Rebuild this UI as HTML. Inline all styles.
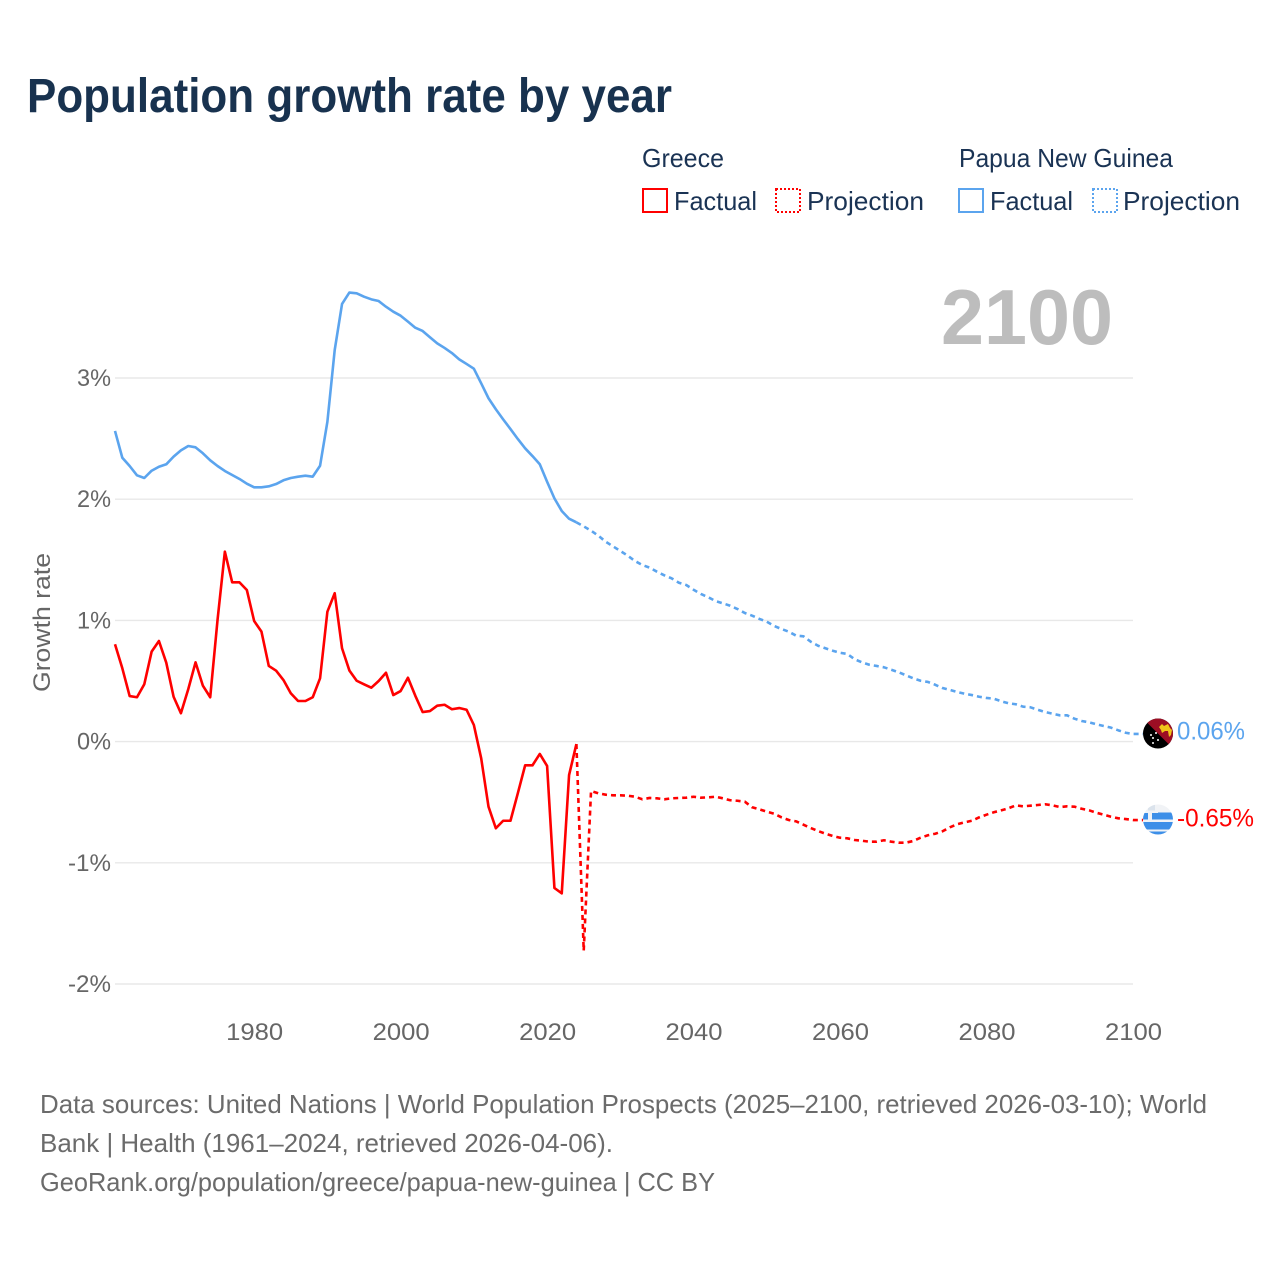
<!DOCTYPE html>
<html lang="en">
<head>
<meta charset="utf-8">
<title>Population growth rate by year</title>
<style>
html,body{margin:0;padding:0;background:#fff;width:1280px;height:1280px;overflow:hidden}
svg{display:block;font-family:"Liberation Sans",sans-serif}
</style>
</head>
<body>
<svg id="chart" xmlns="http://www.w3.org/2000/svg" width="1280" height="1280" viewBox="0 0 1280 1280">
  <defs>
    <clipPath id="flag-clip-png"><circle cx="1158" cy="733.5" r="15"/></clipPath>
    <clipPath id="flag-clip-gr"><circle cx="1158" cy="819.5" r="15"/></clipPath>
  </defs>
  <rect x="0" y="0" width="1280" height="1280" fill="#fff"/>
  <text x="27" y="112" font-size="48" font-weight="700" fill="#18324f" textLength="645" lengthAdjust="spacingAndGlyphs">Population growth rate by year</text>

  <g font-size="26" fill="#1a3354">
    <text x="642" y="167" textLength="82" lengthAdjust="spacingAndGlyphs">Greece</text>
    <text x="959" y="167" textLength="214" lengthAdjust="spacingAndGlyphs">Papua New Guinea</text>
    <g>
      <rect x="643" y="189" width="24" height="23" fill="none" stroke="#ff0000" stroke-width="2"/>
      <text x="674" y="210" textLength="83" lengthAdjust="spacingAndGlyphs">Factual</text>
    </g>
    <g>
      <rect x="776" y="189" width="24" height="23" fill="none" stroke="#ff0000" stroke-width="2" stroke-dasharray="2 2"/>
      <text x="807" y="210" textLength="117" lengthAdjust="spacingAndGlyphs">Projection</text>
    </g>
    <g>
      <rect x="959" y="189" width="24" height="23" fill="none" stroke="#5ba4ee" stroke-width="2"/>
      <text x="990" y="210" textLength="83" lengthAdjust="spacingAndGlyphs">Factual</text>
    </g>
    <g>
      <rect x="1093" y="189" width="24" height="23" fill="none" stroke="#5ba4ee" stroke-width="2" stroke-dasharray="2 2"/>
      <text x="1123" y="210" textLength="117" lengthAdjust="spacingAndGlyphs">Projection</text>
    </g>
  </g>

  <g id="grid"></g>
  <g id="y-ticks"></g>
  <g id="x-ticks"></g>
  <text transform="translate(50 622.5) rotate(-90)" text-anchor="middle" font-size="24" fill="#666" textLength="139" lengthAdjust="spacingAndGlyphs">Growth rate</text>
  <text x="941" y="344" font-size="78" font-weight="700" fill="#bdbdbd" textLength="172" lengthAdjust="spacingAndGlyphs">2100</text>

  <g id="series"></g>

  <g clip-path="url(#flag-clip-png)">
    <rect x="1143" y="718.5" width="30" height="30" fill="#000"/>
    <polygon points="1143,718.5 1173,718.5 1173,748.5" fill="#9c0e24"/>
    <polygon points="1159,727 1162,724 1164,726 1168,724 1170,728 1172,730 1171,735 1169,737 1168,731 1165,731 1162,733 1161,730" fill="#f0c419"/>
    <circle cx="1151" cy="735" r="1" fill="#fff"/>
    <circle cx="1156" cy="733" r="1" fill="#fff"/>
    <circle cx="1153" cy="738" r="1" fill="#fff"/>
    <circle cx="1153" cy="743" r="1" fill="#fff"/>
    <circle cx="1158" cy="740" r="1" fill="#fff"/>
  </g>
  <g clip-path="url(#flag-clip-gr)">
    <rect x="1143" y="804.5" width="30" height="31" fill="#f1f3f6"/>
    <rect x="1158" y="812.5" width="15" height="7" fill="#3d8fe8"/>
    <rect x="1143" y="822" width="30" height="7.5" fill="#3d8fe8"/>
    <rect x="1143" y="831.5" width="30" height="4" fill="#3d8fe8"/>
    <rect x="1148" y="804.5" width="7" height="6" fill="#dbe3ec"/>
    <rect x="1143" y="813" width="5" height="6.5" fill="#3d8fe8"/>
    <rect x="1152" y="813" width="6" height="6.5" fill="#3d8fe8"/>
  </g>

  <text id="end-label-png" x="1177" y="739.5" font-size="25" fill="#5ba4ee" textLength="68" lengthAdjust="spacingAndGlyphs">0.06%</text>
  <text id="end-label-gr" x="1177" y="826.5" font-size="25" fill="#ff0000" textLength="77" lengthAdjust="spacingAndGlyphs">-0.65%</text>

  <g font-size="26" fill="#6b6b6b">
    <text x="40" y="1113" textLength="1167" lengthAdjust="spacingAndGlyphs">Data sources: United Nations | World Population Prospects (2025–2100, retrieved 2026-03-10); World</text>
    <text x="40" y="1152" textLength="573" lengthAdjust="spacingAndGlyphs">Bank | Health (1961–2024, retrieved 2026-04-06).</text>
    <text x="40" y="1191" textLength="675" lengthAdjust="spacingAndGlyphs">GeoRank.org/population/greece/papua-new-guinea | CC BY</text>
  </g>
</svg>
<script>
// Chart data (percent growth per year)
const factualStartYear = 1961;
const projectionStartYear = 2024;
const xTickLabels = [1980, 2000, 2020, 2040, 2060, 2080, 2100];
const yTickLabels = [-2, -1, 0, 1, 2, 3];
const greeceFactual = [0.803,0.605,0.376,0.366,0.473,0.742,0.830,0.651,0.370,0.234,0.432,0.654,0.461,0.366,1.003,1.567,1.314,1.314,1.251,0.995,0.907,0.624,0.585,0.508,0.399,0.335,0.335,0.366,0.522,1.072,1.224,0.770,0.587,0.502,0.473,0.445,0.500,0.568,0.384,0.417,0.527,0.379,0.244,0.252,0.296,0.304,0.267,0.277,0.263,0.137,-0.138,-0.537,-0.715,-0.653,-0.653,-0.427,-0.196,-0.196,-0.102,-0.201,-1.208,-1.252,-0.276,-0.020];
const greeceProjection = [-0.020,-1.725,-0.408,-0.427,-0.438,-0.443,-0.443,-0.446,-0.455,-0.476,-0.465,-0.468,-0.476,-0.468,-0.465,-0.463,-0.455,-0.463,-0.460,-0.455,-0.468,-0.484,-0.488,-0.496,-0.542,-0.559,-0.578,-0.595,-0.625,-0.647,-0.658,-0.686,-0.713,-0.738,-0.760,-0.779,-0.793,-0.798,-0.812,-0.818,-0.826,-0.826,-0.814,-0.826,-0.834,-0.834,-0.820,-0.793,-0.773,-0.760,-0.740,-0.707,-0.682,-0.666,-0.653,-0.625,-0.603,-0.583,-0.567,-0.550,-0.526,-0.534,-0.529,-0.523,-0.517,-0.526,-0.540,-0.534,-0.537,-0.554,-0.567,-0.587,-0.603,-0.620,-0.633,-0.639,-0.647];
const pngFactual = [2.563,2.342,2.274,2.197,2.175,2.235,2.268,2.288,2.351,2.403,2.439,2.428,2.379,2.321,2.274,2.233,2.200,2.167,2.128,2.098,2.098,2.106,2.125,2.156,2.175,2.186,2.194,2.186,2.276,2.639,3.231,3.611,3.705,3.699,3.671,3.649,3.635,3.588,3.547,3.514,3.465,3.415,3.388,3.336,3.286,3.248,3.206,3.154,3.116,3.077,2.956,2.833,2.742,2.659,2.579,2.497,2.420,2.356,2.288,2.144,2.007,1.903,1.839,1.809];
const pngProjection = [1.809,1.776,1.740,1.699,1.649,1.611,1.573,1.534,1.490,1.457,1.435,1.402,1.372,1.347,1.311,1.292,1.253,1.218,1.191,1.160,1.141,1.121,1.094,1.061,1.039,1.012,0.989,0.954,0.929,0.907,0.874,0.869,0.824,0.791,0.770,0.750,0.733,0.723,0.679,0.654,0.634,0.624,0.613,0.593,0.572,0.547,0.522,0.502,0.492,0.469,0.442,0.426,0.409,0.395,0.384,0.370,0.360,0.354,0.333,0.316,0.308,0.288,0.283,0.263,0.244,0.230,0.217,0.217,0.189,0.170,0.159,0.143,0.129,0.115,0.093,0.073,0.063];

const SVG_NS = 'http://www.w3.org/2000/svg';
const xScale = function (year) { return 115 + (year - 1961) * (1133 - 115) / (2100 - 1961); };
const yScale = function (value) { return 741.6 - value * 121.2; };
const FLAG_EDGE_X = 1143;

function polylinePoints(values, startYear) {
  return values.map(function (v, i) {
    return xScale(startYear + i).toFixed(2) + ',' + yScale(v).toFixed(2);
  }).join(' ');
}

const gridGroup = document.getElementById('grid');
const yTickGroup = document.getElementById('y-ticks');
const xTickGroup = document.getElementById('x-ticks');
const seriesGroup = document.getElementById('series');

yTickLabels.forEach(function (tick) {
  const line = document.createElementNS(SVG_NS, 'line');
  
  
  line.setAttribute('x1', xScale(1961));
  line.setAttribute('x2', xScale(2100));
  line.setAttribute('y1', yScale(tick));
  line.setAttribute('y2', yScale(tick));
  line.setAttribute('stroke', '#e8e8e8');
  line.setAttribute('stroke-width', '1.4');
  gridGroup.appendChild(line);

  const label = document.createElementNS(SVG_NS, 'text');
  
  
  const text = tick + '%';
  const width = text.length === 3 ? 43 : 34;
  label.setAttribute('x', 111 - width);
  label.setAttribute('y', yScale(tick) + 8);
  label.setAttribute('font-size', '24');
  label.setAttribute('fill', '#666');
  label.setAttribute('textLength', width);
  label.setAttribute('lengthAdjust', 'spacingAndGlyphs');
  label.textContent = text;
  yTickGroup.appendChild(label);
});

xTickLabels.forEach(function (tick) {
  const label = document.createElementNS(SVG_NS, 'text');
  
  
  label.setAttribute('x', xScale(tick) - 28);
  label.setAttribute('y', 1040);
  label.setAttribute('font-size', '24');
  label.setAttribute('fill', '#666');
  label.setAttribute('textLength', 57);
  label.setAttribute('lengthAdjust', 'spacingAndGlyphs');
  label.textContent = String(tick);
  xTickGroup.appendChild(label);
});

function addSeries(values, startYear, color, dashed, name) {
  const line = document.createElementNS(SVG_NS, 'polyline');
  
  
  let points = polylinePoints(values, startYear);
  if (dashed) {
    points += ' ' + FLAG_EDGE_X + ',' + yScale(values[values.length - 1]).toFixed(2);
    line.setAttribute('stroke-dasharray', '5 4');
  }
  line.setAttribute('points', points);
  line.setAttribute('fill', 'none');
  line.setAttribute('stroke', color);
  line.setAttribute('stroke-width', '2.6');
  line.setAttribute('stroke-linejoin', 'round');
  seriesGroup.appendChild(line);
}

addSeries(pngFactual, factualStartYear, '#5ba4ee', false, 'line-png-factual');
addSeries(pngProjection, projectionStartYear, '#5ba4ee', true, 'line-png-projection');
addSeries(greeceFactual, factualStartYear, '#ff0000', false, 'line-greece-factual');
addSeries(greeceProjection, projectionStartYear, '#ff0000', true, 'line-greece-projection');
</script>
</body>
</html>
